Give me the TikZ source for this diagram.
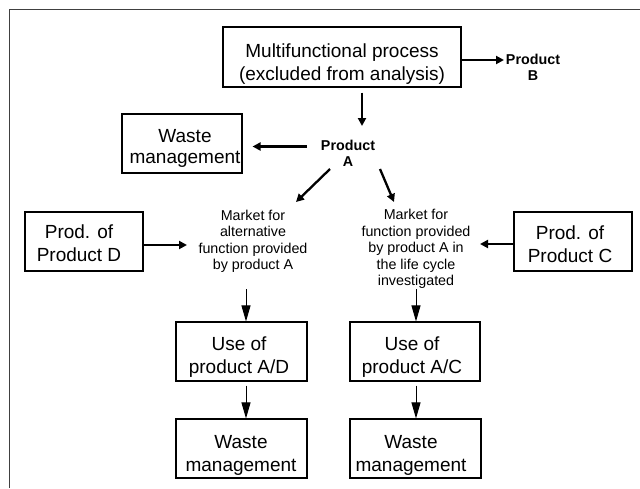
\documentclass[tikz,border=0pt]{standalone}
\usepackage{fontspec}
\setmainfont{Liberation Sans}
\usetikzlibrary{arrows.meta,calc}
\begin{document}
\begin{tikzpicture}[x=1pt,y=-1pt,
  box/.style={draw, line width=1.1pt, inner sep=0pt},
  bigtxt/.style={font=\fontsize{19}{23}\selectfont, align=center, inner sep=0pt},
  mkt/.style={font=\fontsize{14.3}{16.6}\selectfont, align=center, inner sep=0pt},
  prod/.style={font=\fontsize{14.3}{16}\selectfont\bfseries, align=center, inner sep=0pt},
  thk/.style={line width=2.3pt, -{Triangle[length=8pt,width=8pt]}},
  thn/.style={line width=1pt, -{Triangle[length=16pt,width=9pt]}}]
\fill[white] (0,0) rectangle (640,488);
\useasboundingbox (0,0) rectangle (640,488);
% frame
\draw[black!75, line width=1.5pt] (9.5,488) -- (9.5,9.5) -- (640,9.5);
% boxes
\node[box, minimum width=238pt, minimum height=60pt] (mf) at (342,57) {};
\node[bigtxt] (mft) at (342,63.9) {\strut Multifunctional process\\\strut (excluded from analysis)};
\node[prod] (pb) at (533,68.8) {\strut Product\\\strut B};
\node[prod] (pa) at (348,154.8) {\strut Product\\\strut A};
\node[box, minimum width=120pt, minimum height=59pt] (wt) at (182,143.5) {};
\node[bigtxt, font=\fontsize{19}{21}\selectfont] (wtt) at (185,148.3) {\strut Waste\\\strut management};
\node[box, minimum width=118pt, minimum height=59pt] (pd) at (84,241.5) {};
\node[bigtxt] (pdt) at (79,245.4) {\strut Prod. of\\\strut Product D};
\node[box, minimum width=118pt, minimum height=59pt] (pc) at (573,241.5) {};
\node[bigtxt] (pct) at (570,245.9) {\strut Prod. of\\\strut Product C};
\node[mkt] (lm) at (253,241.6) {\strut Market for\\\strut alternative\\\strut function provided\\\strut by product A};
\node[mkt] (rm) at (416,249.4) {\strut Market for\\\strut function provided\\\strut by product A in\\\strut the life cycle\\\strut investigated};
\node[box, minimum width=131pt, minimum height=59pt] (ud) at (241.5,351.5) {};
\node[bigtxt] (udt) at (239,356.9) {\strut Use of\\\strut product A/D};
\node[box, minimum width=130pt, minimum height=59pt] (uc) at (415,351.5) {};
\node[bigtxt] (uct) at (412,356.9) {\strut Use of\\\strut product A/C};
\node[box, minimum width=131pt, minimum height=59pt] (wd) at (241.5,448.5) {};
\node[bigtxt] (wdt) at (241,454.9) {\strut Waste\\\strut management};
\node[box, minimum width=131pt, minimum height=59pt] (wc) at (415.5,448.5) {};
\node[bigtxt] (wct) at (411,454.9) {\strut Waste\\\strut management};
% thick arrows
\draw[thk] ($(mf.east)+(0,3)$) -- ($(pb)+(-29,-8.8)$);
\draw[thk] ($(mf.south)+(20,5)$) -- ($(pa)+(14,-28.8)$);
\draw[thk] ($(pa)+(-41,-8.3)$) -- ($(wt.east)+(10,3)$);
\draw[thk] ($(pa)+(-18,14.2)$) -- ($(lm)+(43,-39.6)$);
\draw[thk] ($(pa)+(32,14.2)$) -- ($(rm)+(-22,-47.4)$);
\draw[thk] ($(pd.east)+(0,3.5)$) -- ($(lm)+(-66,3.4)$);
\draw[thk] ($(pc.west)+(0,2.5)$) -- ($(rm)+(64,-5.4)$);
% thin arrows
\draw[thn] ($(lm)+(-7,47.4)$) -- ($(ud.north)+(4.5,0)$);
\draw[thn] ($(rm)+(0,39.6)$) -- ($(uc.north)+(1,0)$);
\draw[thn] ($(ud.south)+(4.5,4)$) -- ($(wd.north)+(4.5,0)$);
\draw[thn] ($(uc.south)+(1,4)$) -- ($(wc.north)+(0.5,0)$);
\end{tikzpicture}
\end{document}
